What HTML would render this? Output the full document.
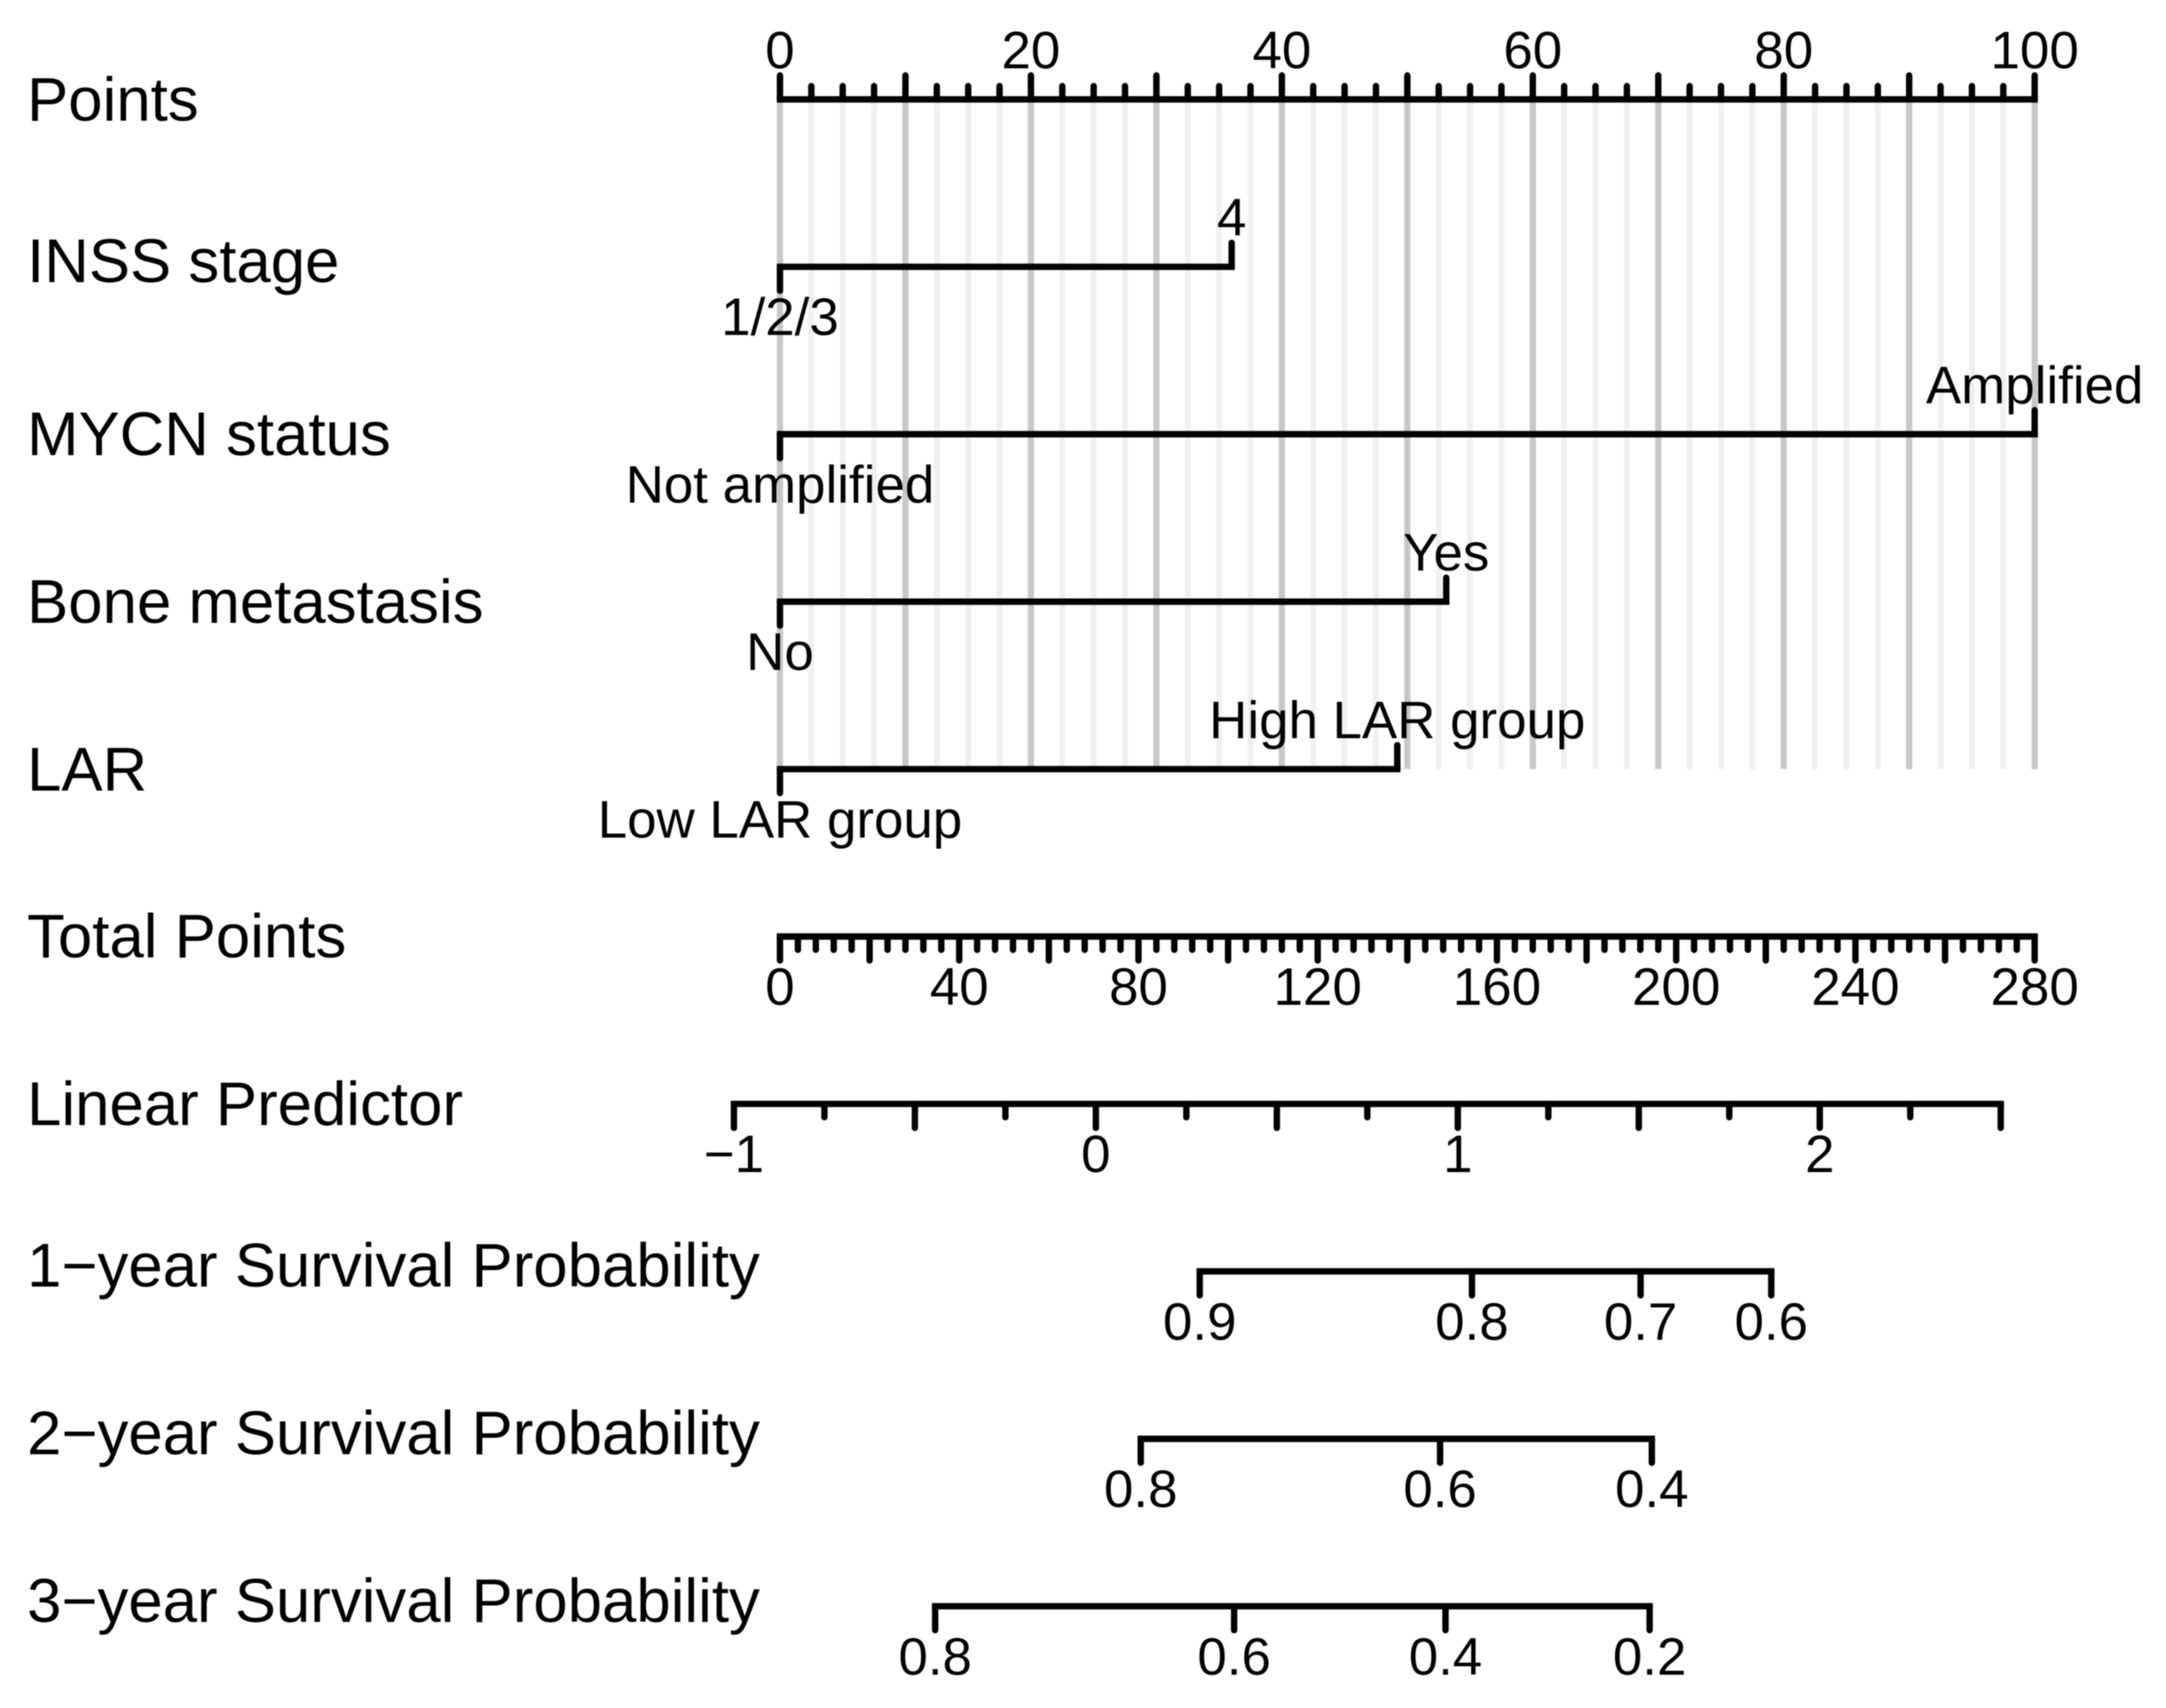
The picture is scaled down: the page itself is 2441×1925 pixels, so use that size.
<!DOCTYPE html>
<html lang="en">
<head>
<meta charset="utf-8">
<title>Nomogram</title>
<style>
html,body{margin:0;padding:0;background:#fff;}
svg{display:block;filter:blur(0.6px);}
text{font-family:"Liberation Sans",Arial,sans-serif;fill:#000;}
.row-title{font-size:69.6px;}
.tick-label{font-size:59.6px;text-anchor:middle;}
</style>
</head>
<body>
<svg id="chart" xmlns="http://www.w3.org/2000/svg" width="2441" height="1925" viewBox="0 0 2441 1925">
<rect x="0" y="0" width="2441" height="1925" fill="#ffffff"/>
<g id="grid"></g>
<g id="marks"></g>
<g id="titles">
<text class="row-title" x="30.5" y="136">Points</text>
<text class="row-title" x="30.5" y="318">INSS stage</text>
<text class="row-title" x="30.5" y="513">MYCN status</text>
<text class="row-title" x="30.5" y="702">Bone metastasis</text>
<text class="row-title" x="30.5" y="891">LAR</text>
<text class="row-title" x="30.5" y="1079">Total Points</text>
<text class="row-title" x="30.5" y="1268">Linear Predictor</text>
<text class="row-title" x="30.5" y="1450">1−year Survival Probability</text>
<text class="row-title" x="30.5" y="1639">2−year Survival Probability</text>
<text class="row-title" x="30.5" y="1828">3−year Survival Probability</text>
</g>
</svg>
<script>
// ---- Data ----
const pointsMajor = [0,10,20,30,40,50,60,70,80,90,100];
const pointsMinor = [2.5,5,7.5,12.5,15,17.5,22.5,25,27.5,32.5,35,37.5,42.5,45,47.5,52.5,55,57.5,62.5,65,67.5,72.5,75,77.5,82.5,85,87.5,92.5,95,97.5];
const pointsLabels = [0,20,40,60,80,100];

const inssLevels = ['1/2/3','4'];
const inssPoints = [0,36];
const mycnLevels = ['Not amplified','Amplified'];
const mycnPoints = [0,100];
const boneLevels = ['No','Yes'];
const bonePoints = [0,53.1];
const larLevels = ['Low LAR group','High LAR group'];
const larPoints = [0,49.2];

const totalMajor = [0,20,40,60,80,100,120,140,160,180,200,220,240,260,280];
const totalMinorStep = 4;
const totalLabels = [0,40,80,120,160,200,240,280];

const lpMajor = [-1,-0.5,0,0.5,1,1.5,2,2.5];
const lpMinor = [-0.75,-0.25,0.25,0.75,1.25,1.75,2.25];
const lpLabels = [-1,0,1,2];

const year1Labels = ['0.9','0.8','0.7','0.6'];
const year1LinearPredictor = [0.287,1.039,1.505,1.866];
const year2Labels = ['0.8','0.6','0.4'];
const year2LinearPredictor = [0.124,0.951,1.536];
const year3Labels = ['0.8','0.6','0.4','0.2'];
const year3LinearPredictor = [-0.444,0.382,0.966,1.53];

// ---- Axis functions ----
const NS = 'http://www.w3.org/2000/svg';
const gridG = document.getElementById('grid');
const marksG = document.getElementById('marks');
const rowY = i => 112 + 188.7 * i;
const xPoints = v => 879 + v * 14.14;
const xTotal = v => 879 + v * 14.14 * 100 / 280;
const xLP = v => 1235 + v * 407.9;

const MAJOR = 27, MINOR = 15, SW = 7.2;

function seg(parent, x1, y1, x2, y2, color, width, cap) {
  const l = document.createElementNS(NS, 'line');
  l.setAttribute('x1', x1);
  l.setAttribute('y1', y1);
  l.setAttribute('x2', x2);
  l.setAttribute('y2', y2);
  l.setAttribute('stroke', color);
  l.setAttribute('stroke-width', width);
  l.setAttribute('stroke-linecap', cap);
  parent.appendChild(l);
  return l;
}
function label(x, y, str) {
  const t = document.createElementNS(NS, 'text');
  t.setAttribute('class', 'tick-label');
  t.setAttribute('x', x);
  t.setAttribute('y', y);
  t.textContent = str;
  marksG.appendChild(t);
  return t;
}
function axisLine(x1, x2, y) {
  const el = seg(marksG, x1 - SW / 2, y, x2 + SW / 2, y, '#000', SW, 'butt');
  
  
}
function tick(x, y, len) {
  const el = seg(marksG, x, y, x, y + len, '#000', SW, 'round');
  
  
}
function tickText(x, y, str) {
  const el = label(x, y, str);
  
  
}

// Background grid
pointsMinor.forEach(v => {
  const el = seg(gridG, xPoints(v), rowY(0), xPoints(v), rowY(4), '#f0f0f0', 6.5, 'butt');
  
  
});
pointsMajor.forEach(v => {
  const el = seg(gridG, xPoints(v), rowY(0), xPoints(v), rowY(4), '#c8c8c8', 7, 'butt');
  
  
});

// Points axis (ticks above, labels above)
axisLine(xPoints(0), xPoints(100), rowY(0));
pointsMajor.forEach(v => tick(xPoints(v), rowY(0), -MAJOR));
pointsMinor.forEach(v => tick(xPoints(v), rowY(0), -MINOR));
pointsLabels.forEach(v => tickText(xPoints(v), rowY(0) - 35, String(v)));

// Categorical axes (first level below, second above)
function categorical(row, levels, pts) {
  const y = rowY(row);
  axisLine(xPoints(pts[0]), xPoints(pts[1]), y);
  tick(xPoints(pts[0]), y, MAJOR);
  tick(xPoints(pts[1]), y, -MAJOR);
  tickText(xPoints(pts[0]), y + 77, levels[0]);
  tickText(xPoints(pts[1]), y - 35, levels[1]);
}
categorical(1, inssLevels, inssPoints);
categorical(2, mycnLevels, mycnPoints);
categorical(3, boneLevels, bonePoints);
categorical(4, larLevels, larPoints);

// Total points axis
axisLine(xTotal(0), xTotal(280), rowY(5));
totalMajor.forEach(v => tick(xTotal(v), rowY(5), MAJOR));
for (let v = 0; v <= 280; v += totalMinorStep) {
  if (v % 20 !== 0) tick(xTotal(v), rowY(5), MINOR);
}
totalLabels.forEach(v => tickText(xTotal(v), rowY(5) + 77, String(v)));

// Linear predictor axis
axisLine(xLP(-1), xLP(2.5), rowY(6));
lpMajor.forEach(v => tick(xLP(v), rowY(6), MAJOR));
lpMinor.forEach(v => tick(xLP(v), rowY(6), MINOR));
lpLabels.forEach(v => tickText(xLP(v), rowY(6) + 77, String(v).replace('-', '\u2212')));

// Survival probability axes
function survival(row, labels, lps) {
  const y = rowY(row);
  axisLine(xLP(lps[0]), xLP(lps[lps.length - 1]), y);
  lps.forEach((v, i) => {
    tick(xLP(v), y, MAJOR);
    tickText(xLP(v), y + 77, labels[i]);
  });
}
survival(7, year1Labels, year1LinearPredictor);
survival(8, year2Labels, year2LinearPredictor);
survival(9, year3Labels, year3LinearPredictor);
</script>
</body>
</html>
